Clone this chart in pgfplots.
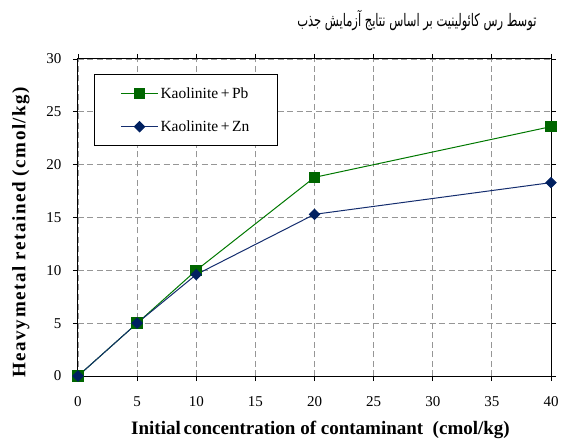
\documentclass[border=0pt]{standalone}
\usepackage{pgfplots}
\pgfplotsset{compat=1.18}
\usepackage{fontspec}
\setmainfont{Liberation Serif}
\newfontfamily\arabicfont[Script=Arabic]{DejaVu Sans}
\TeXXeTstate=1
\definecolor{pbgreen}{RGB}{0,102,0}
\definecolor{pbline}{RGB}{0,120,0}
\definecolor{znblue}{RGB}{0,32,96}
\definecolor{znline}{RGB}{20,45,110}
\definecolor{gridgray}{RGB}{150,150,150}
\begin{document}
\begin{tikzpicture}
\path[use as bounding box] (-78pt,-63pt) rectangle (484pt,376pt);
\begin{axis}[
  scale only axis, width=473pt, height=317pt,
  at={(0,0)}, anchor=south west,
  xmin=0, xmax=40, ymin=0, ymax=30,
  xtick={0,5,...,40}, ytick={0,5,...,30},
  tick align=outside, major tick length=5pt,
  tick style={black, line width=0.8pt},
  axis line style={black, line width=1pt},
  grid=major,
  major grid style={gridgray, line width=0.8pt, dash pattern=on 6pt off 3.5pt},
  /pgf/number format/assume math mode=true,
  ticklabel style={font=\fontsize{15}{17}\selectfont},
  xticklabel style={yshift=-12pt},
  yticklabel style={xshift=-8pt},
  xlabel={\textbf{Initial\hspace{0.15em}concentration of contaminant\ \ (cmol/kg)}},
  ylabel={\textbf{\addfontfeature{LetterSpace=8}Heavy\hspace{0.1em}metal retained (cmol/kg)}},
  label style={font=\fontsize{19}{21}\selectfont},
  xlabel style={at={(rel axis cs:0.5,0)}, anchor=center, yshift=-54pt, xshift=6pt},
  ylabel style={at={(rel axis cs:0,0.5)}, anchor=center, yshift=57pt, xshift=-14pt},
  legend style={at={(rel axis cs:0.034,0.953)}, anchor=north west, draw=black, line width=0.9pt,
    font=\fontsize{15.5}{17}\selectfont, inner xsep=26pt, inner ysep=11pt, row sep=17pt,
    nodes={inner sep=2pt}},
  legend cell align=left,
  legend image code/.code={\draw[#1] (0pt,0pt) -- (37pt,0pt); \draw[#1, mark repeat=2, mark phase=2] plot coordinates {(0pt,0pt) (18.5pt,0pt) (37pt,0pt)};},
  clip=false,
]
\addplot[color=pbline, line width=1pt, mark=square*, mark size=5.3pt, mark options={fill=pbgreen, draw=pbgreen, solid}]
  coordinates {(0,0) (5,5) (10,10) (20,18.8) (40,23.6)};
\addlegendentry{Kaolinite\,+\,Pb}
\addplot[color=znline, line width=1pt, mark=square*, mark size=3.6pt, mark options={fill=znblue, draw=znblue, solid, rotate=45}]
  coordinates {(0,0) (5,5) (10,9.6) (20,15.3) (40,18.3)};
\addlegendentry{Kaolinite\,+\,Zn}
\end{axis}
\node[anchor=east, font=\fontsize{11.5}{14}\selectfont, yscale=1.5] at (462pt,355pt) {\arabicfont\beginR توسط رس کائولینیت بر اساس نتایج آزمایش جذب\endR};
\end{tikzpicture}
\end{document}
